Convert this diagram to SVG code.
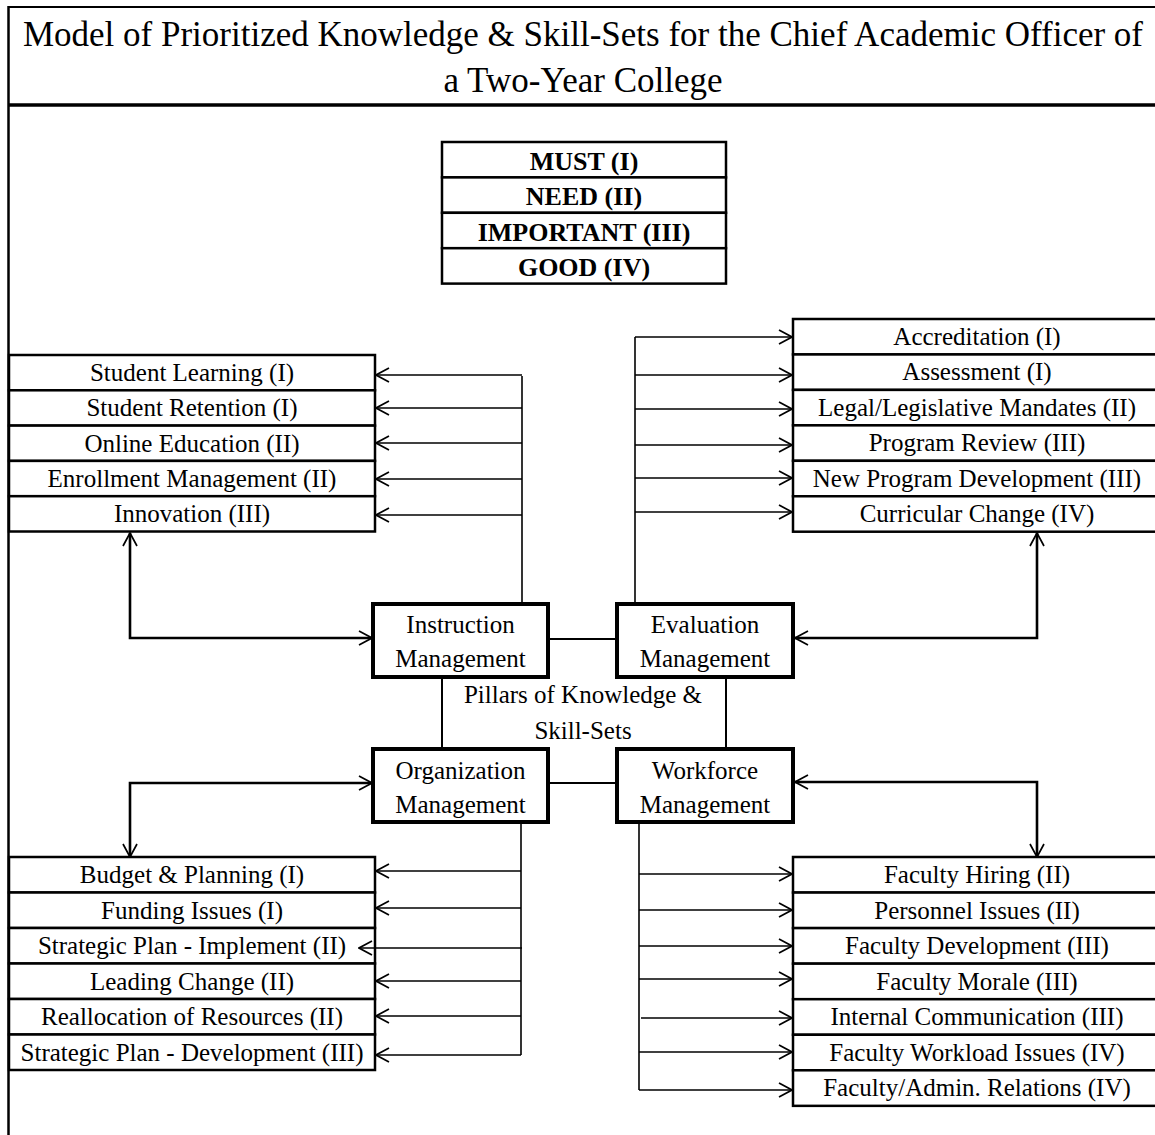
<svg xmlns="http://www.w3.org/2000/svg" width="1155" height="1135" viewBox="0 0 1155 1135">
<defs>
<style>
.t{font-family:"Liberation Serif","Times New Roman",serif;font-size:25px;fill:#000;text-anchor:middle}
.tt{font-family:"Liberation Serif","Times New Roman",serif;font-size:35px;fill:#000;text-anchor:middle}
.lg{font-family:"Liberation Serif","Times New Roman",serif;font-size:26px;font-weight:bold;fill:#000;text-anchor:middle}
.row{fill:#fff;stroke:#000;stroke-width:2.5}
.pil{fill:#fff;stroke:#000;stroke-width:4}
.ar{fill:none;stroke:#000;stroke-width:1.6;marker-end:url(#ah)}
.tr{fill:none;stroke:#000;stroke-width:1.6}
.bi{fill:none;stroke:#000;stroke-width:2.6;marker-start:url(#ah);marker-end:url(#ah)}
.cl{fill:none;stroke:#000;stroke-width:2}
</style>
<marker id="ah" viewBox="0 0 16 16" refX="15" refY="8" markerWidth="16" markerHeight="16" markerUnits="userSpaceOnUse" orient="auto-start-reverse">
<path d="M2,1 L15,8 L2,15" fill="none" stroke="#000" stroke-width="1.7"/>
</marker>
</defs>
<rect width="1155" height="1135" fill="#fff"/>

<g id="frame">
<line x1="8" y1="7" x2="1155" y2="7" stroke="#000" stroke-width="2"/>
<line x1="8.5" y1="6" x2="8.5" y2="1135" stroke="#000" stroke-width="2.5"/>
<line x1="8" y1="105" x2="1155" y2="105" stroke="#000" stroke-width="3.5"/>
</g>

<g id="title">
<text class="tt" x="583" y="46">Model of Prioritized Knowledge &amp; Skill-Sets for the Chief Academic Officer of</text>
<text class="tt" x="583" y="92">a Two-Year College</text>
</g>

<g id="legend">
<rect class="row" x="442" y="142" width="284" height="35.4"/>
<rect class="row" x="442" y="177.4" width="284" height="35.4"/>
<rect class="row" x="442" y="212.8" width="284" height="35.4"/>
<rect class="row" x="442" y="248.2" width="284" height="35.4"/>
<text class="lg" x="584" y="170">MUST (I)</text>
<text class="lg" x="584" y="205.4">NEED (II)</text>
<text class="lg" x="584" y="240.8">IMPORTANT (III)</text>
<text class="lg" x="584" y="276.2">GOOD (IV)</text>
</g>

<g id="instruction-items">
<g id="i1"><rect class="row" x="9" y="355" width="366" height="35.3"/><text class="t" x="192" y="381">Student Learning (I)</text></g>
<g id="i2"><rect class="row" x="9" y="390.3" width="366" height="35.3"/><text class="t" x="192" y="416.3">Student Retention (I)</text></g>
<g id="i3"><rect class="row" x="9" y="425.6" width="366" height="35.3"/><text class="t" x="192" y="451.6">Online Education (II)</text></g>
<g id="i4"><rect class="row" x="9" y="460.9" width="366" height="35.3"/><text class="t" x="192" y="486.9">Enrollment Management (II)</text></g>
<g id="i5"><rect class="row" x="9" y="496.2" width="366" height="35.3"/><text class="t" x="192" y="522.2">Innovation (III)</text></g>
</g>

<g id="evaluation-items">
<g id="e1"><rect class="row" x="793" y="319" width="368" height="35.45"/><text class="t" x="977" y="345">Accreditation (I)</text></g>
<g id="e2"><rect class="row" x="793" y="354.45" width="368" height="35.45"/><text class="t" x="977" y="380.45">Assessment (I)</text></g>
<g id="e3"><rect class="row" x="793" y="389.9" width="368" height="35.45"/><text class="t" x="977" y="415.9">Legal/Legislative Mandates (II)</text></g>
<g id="e4"><rect class="row" x="793" y="425.35" width="368" height="35.45"/><text class="t" x="977" y="451.35">Program Review (III)</text></g>
<g id="e5"><rect class="row" x="793" y="460.8" width="368" height="35.45"/><text class="t" x="977" y="486.8">New Program Development (III)</text></g>
<g id="e6"><rect class="row" x="793" y="496.25" width="368" height="35.45"/><text class="t" x="977" y="522.25">Curricular Change (IV)</text></g>
</g>

<g id="organization-items">
<g id="o1"><rect class="row" x="9" y="857" width="366" height="35.5"/><text class="t" x="192" y="883">Budget &amp; Planning (I)</text></g>
<g id="o2"><rect class="row" x="9" y="892.5" width="366" height="35.5"/><text class="t" x="192" y="918.5">Funding Issues (I)</text></g>
<g id="o3"><rect class="row" x="9" y="928" width="366" height="35.5"/><text class="t" x="192" y="954">Strategic Plan - Implement (II)</text></g>
<g id="o4"><rect class="row" x="9" y="963.5" width="366" height="35.5"/><text class="t" x="192" y="989.5">Leading Change (II)</text></g>
<g id="o5"><rect class="row" x="9" y="999" width="366" height="35.5"/><text class="t" x="192" y="1025">Reallocation of Resources (II)</text></g>
<g id="o6"><rect class="row" x="9" y="1034.5" width="366" height="35.5"/><text class="t" x="192" y="1060.5">Strategic Plan - Development (III)</text></g>
</g>

<g id="workforce-items">
<g id="w1"><rect class="row" x="793" y="857" width="368" height="35.55"/><text class="t" x="977" y="883">Faculty Hiring (II)</text></g>
<g id="w2"><rect class="row" x="793" y="892.55" width="368" height="35.55"/><text class="t" x="977" y="918.55">Personnel Issues (II)</text></g>
<g id="w3"><rect class="row" x="793" y="928.1" width="368" height="35.55"/><text class="t" x="977" y="954.1">Faculty Development (III)</text></g>
<g id="w4"><rect class="row" x="793" y="963.65" width="368" height="35.55"/><text class="t" x="977" y="989.65">Faculty Morale (III)</text></g>
<g id="w5"><rect class="row" x="793" y="999.2" width="368" height="35.55"/><text class="t" x="977" y="1025.2">Internal Communication (III)</text></g>
<g id="w6"><rect class="row" x="793" y="1034.75" width="368" height="35.55"/><text class="t" x="977" y="1060.75">Faculty Workload Issues (IV)</text></g>
<g id="w7"><rect class="row" x="793" y="1070.3" width="368" height="35.55"/><text class="t" x="977" y="1096.3">Faculty/Admin. Relations (IV)</text></g>
</g>

<g id="connectors">
<line class="tr" x1="522" y1="376" x2="522" y2="604"/>
<line class="ar" x1="522" y1="375" x2="376" y2="375"/>
<line class="ar" x1="522" y1="408" x2="376" y2="408"/>
<line class="ar" x1="522" y1="443" x2="376" y2="443"/>
<line class="ar" x1="522" y1="479" x2="376" y2="479"/>
<line class="ar" x1="522" y1="515" x2="376" y2="515"/>
<line class="tr" x1="635" y1="337" x2="635" y2="604"/>
<line class="ar" x1="635" y1="337" x2="792" y2="337"/>
<line class="ar" x1="635" y1="375" x2="792" y2="375"/>
<line class="ar" x1="635" y1="409" x2="792" y2="409"/>
<line class="ar" x1="635" y1="445" x2="792" y2="445"/>
<line class="ar" x1="635" y1="478" x2="792" y2="478"/>
<line class="ar" x1="635" y1="512" x2="792" y2="512"/>
<line class="tr" x1="521" y1="822" x2="521" y2="1055"/>
<line class="ar" x1="521" y1="871" x2="376" y2="871"/>
<line class="ar" x1="521" y1="908" x2="376" y2="908"/>
<line class="ar" x1="522" y1="948" x2="359" y2="948"/>
<line class="ar" x1="521" y1="981" x2="376" y2="981"/>
<line class="ar" x1="521" y1="1016" x2="376" y2="1016"/>
<line class="ar" x1="521" y1="1055" x2="376" y2="1055"/>
<line class="tr" x1="639" y1="822" x2="639" y2="1090"/>
<line class="ar" x1="639" y1="874" x2="792" y2="874"/>
<line class="ar" x1="639" y1="910" x2="792" y2="910"/>
<line class="ar" x1="639" y1="946" x2="792" y2="946"/>
<line class="ar" x1="639" y1="979" x2="792" y2="979"/>
<line class="ar" x1="641" y1="1018" x2="792" y2="1018"/>
<line class="ar" x1="639" y1="1052" x2="792" y2="1052"/>
<line class="ar" x1="639" y1="1090" x2="792" y2="1090"/>
<polyline class="bi" points="130,533 130,638 372,638"/>
<polyline class="bi" points="372,783 130,783 130,857"/>
<polyline class="bi" points="1037,533 1037,638 795,638"/>
<polyline class="bi" points="795,782 1037,782 1037,857"/>
<line class="cl" x1="548" y1="639" x2="617" y2="639"/>
<line class="cl" x1="548" y1="783" x2="617" y2="783"/>
<line class="cl" x1="442" y1="677" x2="442" y2="749"/>
<line class="cl" x1="726" y1="677" x2="726" y2="749"/>
</g>

<g id="instruction-management">
<rect class="pil" x="373" y="604" width="175" height="73"/>
<text class="t" x="460.5" y="633">Instruction</text>
<text class="t" x="460.5" y="667">Management</text>
</g>
<g id="evaluation-management">
<rect class="pil" x="617" y="604" width="176" height="73"/>
<text class="t" x="705" y="633">Evaluation</text>
<text class="t" x="705" y="667">Management</text>
</g>
<g id="organization-management">
<rect class="pil" x="373" y="749" width="175" height="73"/>
<text class="t" x="460.5" y="779">Organization</text>
<text class="t" x="460.5" y="813">Management</text>
</g>
<g id="workforce-management">
<rect class="pil" x="617" y="749" width="176" height="73"/>
<text class="t" x="705" y="779">Workforce</text>
<text class="t" x="705" y="813">Management</text>
</g>

<g id="pillars-label">
<text class="t" x="583" y="703">Pillars of Knowledge &amp;</text>
<text class="t" x="583" y="739">Skill-Sets</text>
</g>
</svg>
